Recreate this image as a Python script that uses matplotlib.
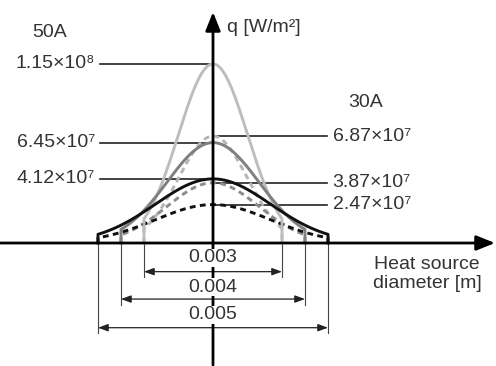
import numpy as np
import matplotlib.pyplot as plt

plt.rcParams['font.family'] = ['Liberation Sans', 'DejaVu Sans']

# heat source diameters [m] and peak heat flux [W/m2]
diameters = [0.003, 0.004, 0.005]
q_50A = [1.15e8, 6.45e7, 4.12e7]
q_30A = [6.87e7, 3.87e7, 2.47e7]
labels_50A = ["1.15×10⁸", "6.45×10⁷", "4.12×10⁷"]
labels_30A = ["6.87×10⁷", "3.87×10⁷", "2.47×10⁷"]
dia_labels = ["0.003", "0.004", "0.005"]

solid_colors = ['#bdbdbd', '#7f7f7f', '#111111']
dash_colors = ['#b5b5b5', '#8c8c8c', '#111111']
FS = 14

fig = plt.figure(figsize=(4.96, 3.66), dpi=100)
ax = fig.add_axes([0, 0, 1, 1])
ax.set_xlim(-0.00463, 0.006152)
ax.set_ylim(-79.0e6, 156.1e6)
ax.axis('off')

def gauss_curve(q0, d):
    R = d / 2
    r = np.linspace(-R, R, 300)
    q = q0 * np.exp(-2 * r**2 / R**2)
    return np.r_[-R, r, R], np.r_[0, q, 0]

# curves (30A dashed behind, 50A solid)
for d, q0, c in zip(diameters, q_30A, dash_colors):
    x, y = gauss_curve(q0, d)
    ax.plot(x, y, color=c, lw=2.1, ls=(0, (2.0, 1.5)), zorder=3)
for d, q0, c in zip(diameters, q_50A, solid_colors):
    x, y = gauss_curve(q0, d)
    ax.plot(x, y, color=c, lw=2.1, zorder=4)

# axes with arrows
arr = dict(arrowstyle='-|>,head_length=0.75,head_width=0.3', color='black',
           lw=2.0, shrinkA=0, shrinkB=0, mutation_scale=15)
ax.annotate('', xy=(0.00613, 0), xytext=(-0.00463, 0), arrowprops=arr, zorder=5)
ax.annotate('', xy=(0, 148.4e6), xytext=(0, -78.4e6), arrowprops=arr, zorder=5)

# value lines and labels
for q0, lab in zip(q_50A, labels_50A):
    ax.plot([-0.00246, 0], [q0, q0], color='#222222', lw=1.2, zorder=2)
    ax.text(-0.00256, q0, lab, ha='right', va='center', fontsize=FS, color='#333333')
for q0, lab in zip(q_30A, labels_30A):
    ax.plot([0, 0.00248], [q0, q0], color='#222222', lw=1.2, zorder=2)
    ax.text(0.0026, q0, lab, ha='left', va='center', fontsize=FS, color='#333333')

# dimension lines
dim_y = [-18.4e6, -36.0e6, -54.4e6]
txt_y = [-9.6e6, -28.3e6, -46.2e6]
for d, yl, yt, lab in zip(diameters, dim_y, txt_y, dia_labels):
    R = d / 2
    for sx in (-R, R):
        ax.plot([sx, sx], [0, yl - 3.6e6], color='#444444', lw=0.8, zorder=2)
    ax.annotate('', xy=(R, yl), xytext=(-R, yl),
                arrowprops=dict(arrowstyle='<|-|>,head_length=0.6,head_width=0.22',
                                color='#222222', lw=0.9, shrinkA=0, shrinkB=0,
                                mutation_scale=10), zorder=2)
    ax.text(0, yt, lab, ha='center', va='center', fontsize=FS, color='#333333',
            bbox=dict(fc='white', ec='none', pad=0.3), zorder=6)

ax.text(0.101, 0.91, "50A", transform=ax.transAxes, ha='center', va='center',
        fontsize=FS, color='#333333')
ax.text(0.738, 0.719, "30A", transform=ax.transAxes, ha='center', va='center',
        fontsize=FS, color='#333333')
ax.text(0.458, 0.925, "q [W/m²]", transform=ax.transAxes, ha='left', va='center',
        fontsize=FS, color='#333333')
ax.text(0.861, 0.251, "Heat source\ndiameter [m]", transform=ax.transAxes,
        ha='center', va='center', fontsize=FS, color='#333333', linespacing=1.15)

fig.savefig("out.png", dpi=100)
